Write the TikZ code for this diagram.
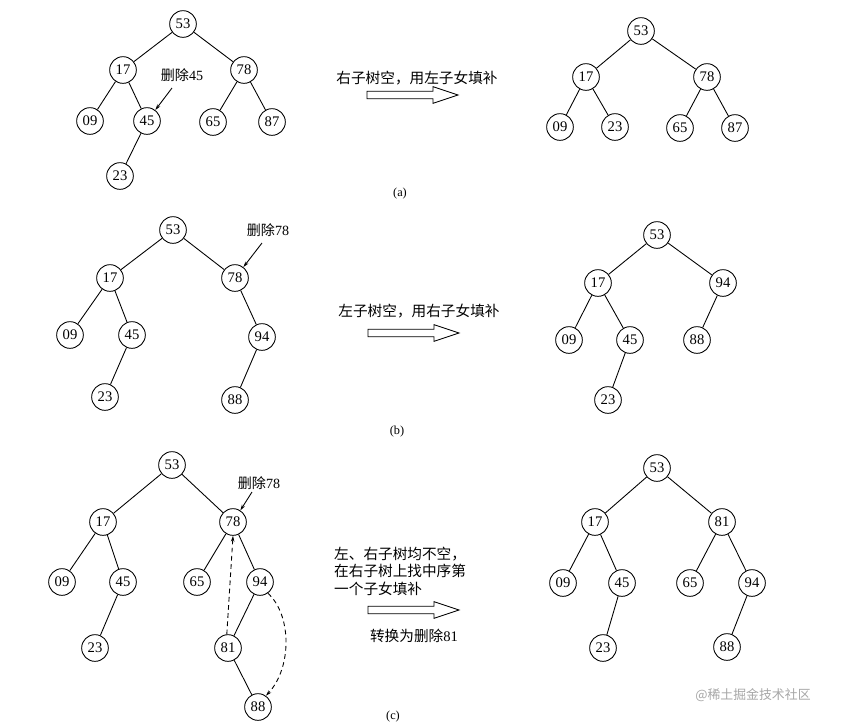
\documentclass[tikz,border=0pt]{standalone}
\usepackage{fontspec}
\setmainfont{Liberation Serif}
\newfontfamily\cjk{Noto Sans CJK SC}
\usetikzlibrary{arrows.meta}
\begin{document}
\begin{tikzpicture}[x=0.03cm,y=-0.03cm,
  nd/.style={circle,draw,line width=0.75pt,minimum size=0.8cm,inner sep=0pt,font=\fontsize{12.5}{12.5}\selectfont},
  edge/.style={line width=0.75pt},
  lbl/.style={inner sep=0pt,font=\fontsize{12}{12}\selectfont},
  note/.style={inner sep=0pt,font=\cjk\fontsize{12.5}{15}\selectfont,align=left},
  ptr/.style={line width=0.75pt,-{Stealth[length=5pt,width=3pt]}},
  dsh/.style={line width=0.75pt,dashed,dash pattern=on 4pt off 3pt,-{Stealth[length=5pt,width=3pt]}},
  captxt/.style={inner sep=0pt,font=\fontsize{10.5}{10.5}\selectfont},
  harr/.pic={\draw[line width=0.75pt] (0,-3.8) -- (66,-3.8) -- (66,-8.3) -- (91,0) -- (66,8.3) -- (66,3.8) -- (0,3.8) -- cycle;}
]
\useasboundingbox (0,0) rectangle (857,726);

% ---------- (a) left ----------
\node[nd] (a53) at (183,24) {53};
\node[nd] (a17) at (123,70) {17};
\node[nd] (a78) at (244,70) {78};
\node[nd] (a09) at (90,121) {09};
\node[nd] (a45) at (147,121) {45};
\node[nd] (a65) at (213,122) {65};
\node[nd] (a87) at (272,122) {87};
\node[nd] (a23) at (120,176) {23};
\draw[edge] (a53)--(a17) (a53)--(a78) (a17)--(a09) (a17)--(a45) (a45)--(a23) (a78)--(a65) (a78)--(a87);
\node[lbl] (la) at (182,75) {{\cjk 删除}45};
\coordinate (pa) at (172,88);
\draw[ptr] (pa) -- (a45);

% ---------- (a) arrow ----------
\node[note] (ta) at (417,78) {右子树空，用左子女填补};
\pic at (367,95) {harr};

% ---------- (a) right ----------
\node[nd] (b53) at (641,31) {53};
\node[nd] (b17) at (586,77) {17};
\node[nd] (b78) at (707,77) {78};
\node[nd] (b09) at (560,127) {09};
\node[nd] (b23) at (615,127) {23};
\node[nd] (b65) at (680,128) {65};
\node[nd] (b87) at (735,128) {87};
\draw[edge] (b53)--(b17) (b53)--(b78) (b17)--(b09) (b17)--(b23) (b78)--(b65) (b78)--(b87);

\node[captxt] (capa) at (400,194) {(a)};

% ---------- (b) left ----------
\node[nd] (c53) at (173,230) {53};
\node[nd] (c17) at (110,278) {17};
\node[nd] (c78) at (235,278) {78};
\node[nd] (c09) at (70,335) {09};
\node[nd] (c45) at (132,335) {45};
\node[nd] (c94) at (262,337) {94};
\node[nd] (c23) at (105,397) {23};
\node[nd] (c88) at (235,400) {88};
\draw[edge] (c53)--(c17) (c53)--(c78) (c17)--(c09) (c17)--(c45) (c45)--(c23) (c78)--(c94) (c94)--(c88);
\node[lbl] (lb) at (268,230) {{\cjk 删除}78};
\coordinate (pb) at (262,243);
\draw[ptr] (pb) -- (c78);

% ---------- (b) arrow ----------
\node[note] (tb) at (419,311) {左子树空，用右子女填补};
\pic at (368,333) {harr};

% ---------- (b) right ----------
\node[nd] (d53) at (657,235) {53};
\node[nd] (d17) at (598,283) {17};
\node[nd] (d94) at (723,283) {94};
\node[nd] (d09) at (569,340) {09};
\node[nd] (d45) at (630,340) {45};
\node[nd] (d88) at (697,340) {88};
\node[nd] (d23) at (608,400) {23};
\draw[edge] (d53)--(d17) (d53)--(d94) (d17)--(d09) (d17)--(d45) (d45)--(d23) (d94)--(d88);

\node[captxt] (capb) at (397,432) {(b)};

% ---------- (c) left ----------
\node[nd] (e53) at (172,465) {53};
\node[nd] (e17) at (103,522) {17};
\node[nd] (e78) at (233,522) {78};
\node[nd] (e09) at (62,582) {09};
\node[nd] (e45) at (123,582) {45};
\node[nd] (e65) at (197,582) {65};
\node[nd] (e94) at (260,582) {94};
\node[nd] (e23) at (95,648) {23};
\node[nd] (e81) at (228,648) {81};
\node[nd] (e88) at (258,707) {88};
\draw[edge] (e53)--(e17) (e53)--(e78) (e17)--(e09) (e17)--(e45) (e45)--(e23) (e78)--(e65) (e78)--(e94) (e94)--(e81) (e81)--(e88);
\node[lbl] (lc) at (259,483) {{\cjk 删除}78};
\coordinate (pc) at (252,492);
\draw[ptr] (pc) -- (e78);
\draw[dsh] (e81.95) -- (e78.-90);
\draw[dsh] (e94.-55) .. controls (292,615) and (292,668) .. (e88.55);

% ---------- (c) arrow ----------
\node[note,anchor=west] (tc) at (334,571) {左、右子树均不空，\\在右子树上找中序第\\一个子女填补};
\pic at (368,610) {harr};
\node[note] (tc2) at (414,636) {转换为删除{\rmfamily 81}};

% ---------- (c) right ----------
\node[nd] (f53) at (657,468) {53};
\node[nd] (f17) at (595,522) {17};
\node[nd] (f81) at (722,522) {81};
\node[nd] (f09) at (563,583) {09};
\node[nd] (f45) at (622,583) {45};
\node[nd] (f65) at (690,583) {65};
\node[nd] (f94) at (752,583) {94};
\node[nd] (f23) at (603,648) {23};
\node[nd] (f88) at (727,647) {88};
\draw[edge] (f53)--(f17) (f53)--(f81) (f17)--(f09) (f17)--(f45) (f45)--(f23) (f81)--(f65) (f81)--(f94) (f94)--(f88);

\node[captxt] (capc) at (393,717) {(c)};

% watermark
\node[inner sep=0pt,text=gray!70,font=\cjk\fontsize{11}{11}\selectfont] (wm) at (753,695) {@稀土掘金技术社区};
\end{tikzpicture}
\end{document}
